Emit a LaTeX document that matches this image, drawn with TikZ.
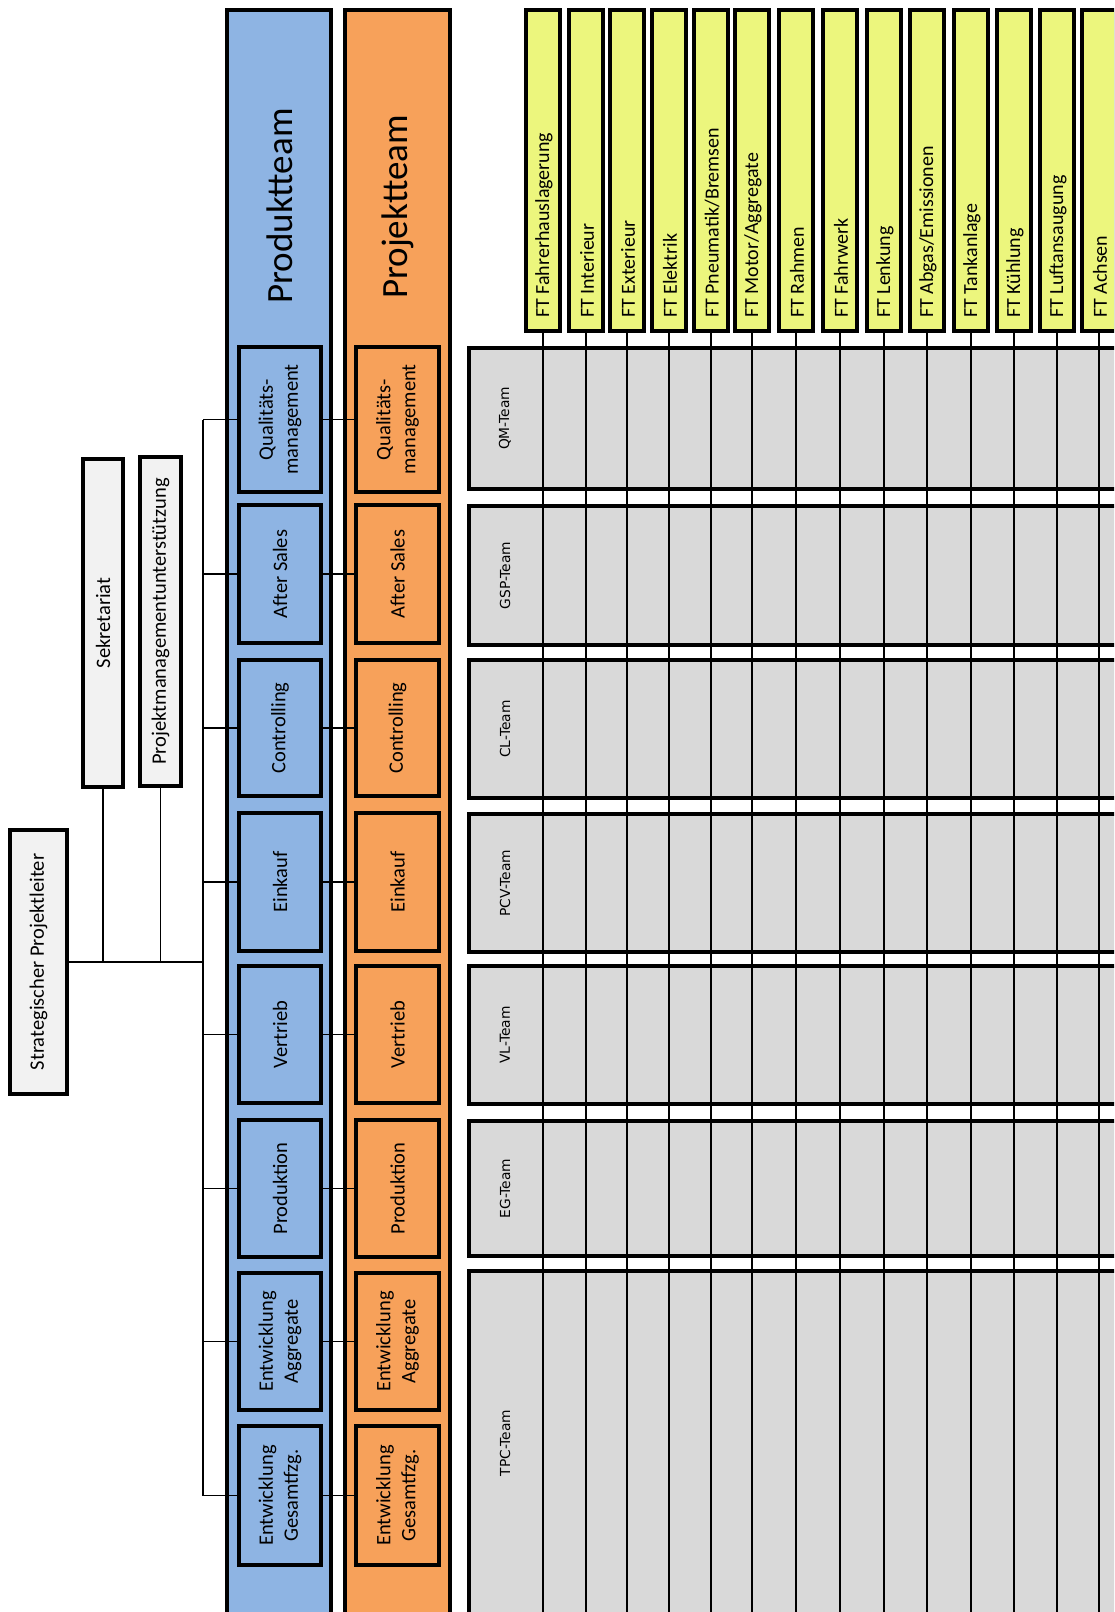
\documentclass[tikz,border=0pt]{standalone}
\usepackage{fontspec}
\setmainfont{Carlito}
\newfontfamily\teamfont{DejaVu Sans}
\definecolor{blueF}{RGB}{142,180,227}
\definecolor{orangeF}{RGB}{247,161,90}
\definecolor{yellowF}{RGB}{236,246,125}
\definecolor{greyF}{RGB}{217,217,217}
\definecolor{lightF}{RGB}{242,242,242}
\tikzset{
  box/.style={draw=black, line width=4pt, inner sep=0pt, align=center, font=\fontsize{20.5}{25}\selectfont},
  bluebox/.style={box, fill=blueF, rotate=90, minimum height=82},
  orangebox/.style={box, fill=orangeF, rotate=90, minimum height=83},
  lightbox/.style={box, fill=lightF, rotate=90},
  teambox/.style={draw=none, fill=greyF, inner sep=0pt},
  teamedge/.style={draw=black, line width=4pt},
  teamtext/.style={rotate=90, inner sep=0pt, font=\teamfont\fontsize{13.8}{17}\selectfont},
  ybox/.style={draw=black, line width=4pt, fill=yellowF, inner sep=0pt, minimum width=34, minimum height=321},
  ytext/.style={rotate=90, anchor=west, inner sep=0pt, font=\fontsize{20}{24}\selectfont},
  colbox/.style={draw=black, line width=4pt},
  title/.style={rotate=90, inner sep=0pt, font=\fontsize{37}{44}\selectfont},
  conn/.style={draw=black, line width=1.6pt},
  vline/.style={draw=black, line width=1.8pt}
}
\begin{document}
\begin{tikzpicture}[x=1pt, y=-1pt]
\useasboundingbox (0,0) rectangle (1114,1612);
\clip (0,0) rectangle (1114,1612);

% columns
\draw[colbox, fill=blueF] (227,10) rectangle (331,1650);
\draw[colbox, fill=orangeF] (345,10) rectangle (450,1650);
\node[title] (pt) at (280,206) {Produktteam};
\node[title] (pj) at (397.5,207) {Projektteam};

% team boxes (open to the right, running past the edge)
\foreach \i/\ya/\yb in {0/348/489, 1/506/645, 2/660/798, 3/814/952, 4/966/1104, 5/1121/1256, 6/1271/1640}{
  \node[teambox, minimum width=831, minimum height={\yb-\ya}] (g\i) at (884.5,{(\ya+\yb)/2}) {};
  \draw[teamedge] (g\i.north east) -- (g\i.north west) -- (g\i.south west) -- (g\i.south east);
}
\foreach \i/\yc/\t in {0/418.5/QM-Team, 1/575.5/GSP-Team, 2/729/CL-Team, 3/883/PCV-Team, 4/1035/VL-Team, 5/1188.5/EG-Team, 6/1443/TPC-Team}{
  \node[teamtext] (gt\i) at (505,\yc) {\t};
}

% functional teams
\coordinate (gbot) at (0,1650);
\foreach \i/\xc/\t in {0/543/Fahrerhauslagerung, 1/586/Interieur, 2/627/Exterieur, 3/669/Elektrik, 4/711/Pneumatik\slash Bremsen, 5/752/Motor\slash Aggregate, 6/796/Rahmen, 7/840/Fahrwerk, 8/884/Lenkung, 9/927/Abgas\slash Emissionen, 10/971/Tankanlage, 11/1014/Kühlung, 12/1057/Luftansaugung, 13/1099/Achsen}{
  \node[ybox] (y\i) at (\xc,170.5) {};
  \draw[vline] (y\i.south) -- (y\i.south |- gbot);
  \node[ytext] (yt\i) at (\xc+1,318) {FT \t};
}

% left boxes
\node[lightbox, minimum width=264, minimum height=57] (spl) at (38.5,962) {Strategischer Projektleiter};
\node[lightbox, minimum width=328, minimum height=40] (sek) at (103,623) {Sekretariat};
\node[lightbox, minimum width=329, minimum height=41] (pm) at (160.5,621.5) {Projektmanagementunterstützung};
\coordinate (sp) at (203,962);

% blue and orange boxes
\foreach \i/\yc/\len/\t in {0/419.5/145/{Qualitäts-\\management}, 1/574/138/{After Sales}, 2/728/136/{Controlling}, 3/882/138/{Einkauf}, 4/1034.5/137/{Vertrieb}, 5/1188.5/137/{Produktion}, 6/1341.5/137/{Entwicklung\\Aggregate}, 7/1495.5/139/{Entwicklung\\Gesamtfzg.}}{
  \node[bluebox, minimum width=\len] (b\i) at (280,\yc) {\t};
  \node[orangebox, minimum width=\len] (o\i) at (397.5,\yc) {\t};
  \draw[conn] (sp |- b\i) -- (b\i);
  \draw[conn] (b\i) -- (o\i);
}

% connectors
\draw[conn] (spl) -- (sp);
\draw[conn] (sek) -- (sek |- sp);
\draw[conn] (pm) -- (pm |- sp);
\draw[conn] (sp |- b0) -- (sp |- b7);
\end{tikzpicture}
\end{document}
